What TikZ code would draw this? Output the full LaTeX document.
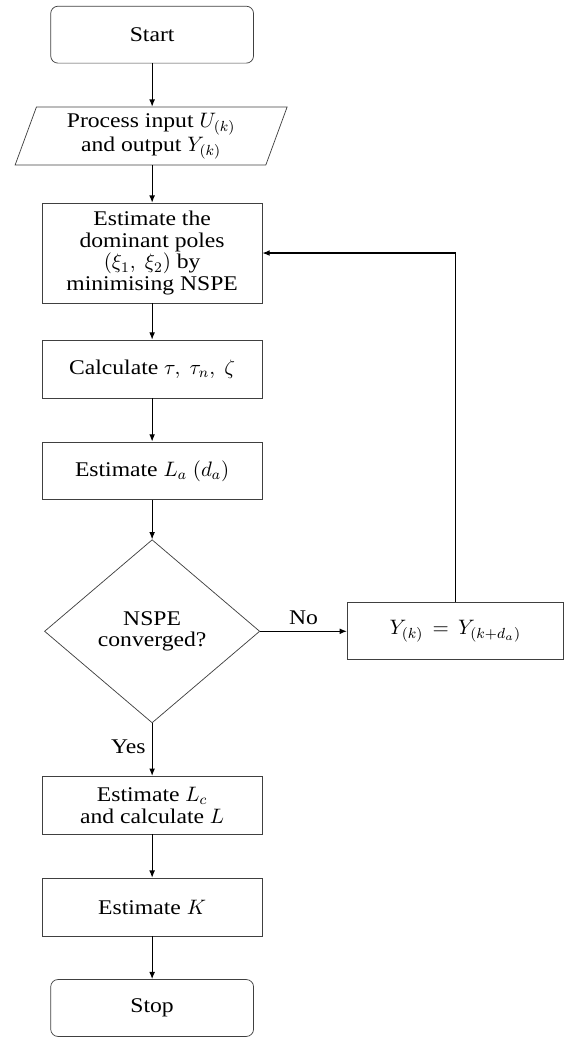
\documentclass[tikz,border=0pt]{standalone}
\usepackage{fix-cm}
\usepackage{fontspec}
\setmainfont{Liberation Serif}[FakeStretch=1.13]
\usepackage{tikz}
\usetikzlibrary{arrows.meta,shapes.geometric}

\begin{document}
\begin{tikzpicture}[>=Latex,font=\fontsize{11.5}{12}\selectfont,
  fc_term/.style={draw=black!75,rounded corners=4pt,minimum width=3.92cm,minimum height=1.10cm,align=center,inner sep=2pt},
  fc_proc/.style={draw=black!75,minimum width=4.25cm,minimum height=1.12cm,align=center,inner sep=2pt},
  fc_io/.style={draw=black!75,trapezium,trapezium left angle=72,trapezium right angle=108,trapezium stretches=true,minimum width=5.26cm,minimum height=1.12cm,align=center,inner sep=1pt},
  fc_dec/.style={draw=black!75,diamond,minimum width=4.16cm,minimum height=3.54cm,align=center,inner sep=0pt},
  fc_arr/.style={-{Latex[length=4pt,width=3.2pt]},line width=0.6pt}]
\useasboundingbox (0,0) rectangle (10.90,-20.06);
\node[fc_term] (st_start) at (2.94,-0.67) {Start};
\node[fc_io] (st_io) at (2.92,-2.63) {Process input $U_{(k)}$\\and output $Y_{(k)}$};
\node[fc_proc,minimum height=1.93cm] (st_poles) at (2.94,-4.89) {Estimate the\\dominant poles\\$(\xi_1,\ \xi_2)$ by\\minimising NSPE};
\node[fc_proc] (st_tau) at (2.94,-7.13) {Calculate $\tau,\ \tau_n,\ \zeta$};
\node[fc_proc] (st_la) at (2.94,-9.10) {Estimate $L_a$ $(d_a)$};
\node[fc_dec] (st_conv) at (2.94,-12.20) {NSPE\\converged?};
\node[fc_proc,minimum width=4.18cm,minimum height=1.10cm] (st_shift) at (8.80,-12.20) {$Y_{(k)}\,=\,Y_{(k+d_a)}$};
\node[fc_proc] (st_lc) at (2.94,-15.56) {Estimate $L_c$\\and calculate $L$};
\node[fc_proc] (st_k) at (2.94,-17.53) {Estimate $K$};
\node[fc_term] (st_stop) at (2.94,-19.48) {Stop};
\draw[fc_arr] (st_start.south)--(st_start.south|-st_io.north);
\draw[fc_arr] (st_poles.north|-st_io.south)--(st_poles.north);
\draw[fc_arr] (st_poles.south)--(st_tau.north);
\draw[fc_arr] (st_tau.south)--(st_la.north);
\draw[fc_arr] (st_la.south)--(st_conv.north);
\draw[fc_arr] (st_conv.east)--node[above]{No}(st_shift.west);
\draw[fc_arr] (st_shift.north)|-(st_poles.east);
\draw[fc_arr] (st_conv.south)--node[left,pos=0.45]{Yes}(st_lc.north);
\draw[fc_arr] (st_lc.south)--(st_k.north);
\draw[fc_arr] (st_k.south)--(st_stop.north);
\end{tikzpicture}
\end{document}
